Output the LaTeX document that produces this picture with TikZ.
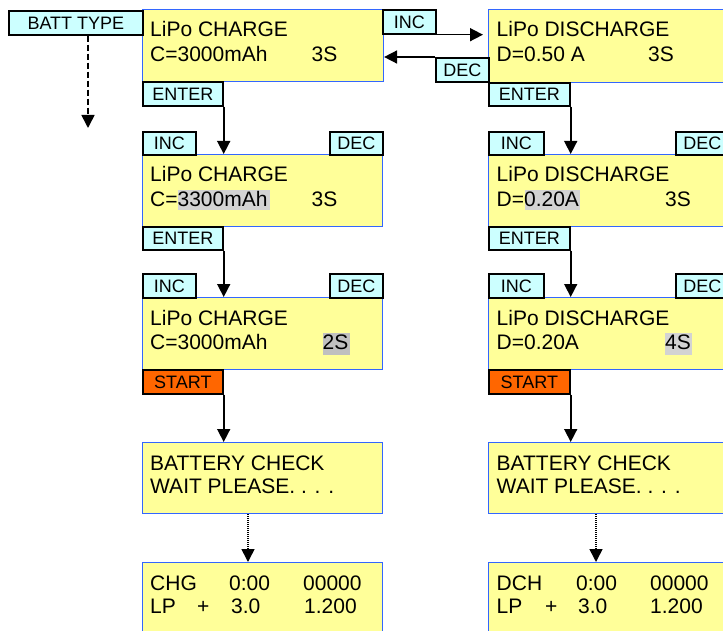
\documentclass[tikz,border=0pt]{standalone}
\usepackage{fontspec}
\setmainfont{Liberation Sans}
\usetikzlibrary{arrows.meta}
\definecolor{lcdyellow}{RGB}{255,255,153}
\definecolor{lcdblue}{RGB}{51,102,255}
\definecolor{keycyan}{RGB}{204,255,255}
\definecolor{keyorange}{RGB}{255,102,0}
\definecolor{hlgray}{RGB}{211,211,211}
\definecolor{hlgrayd}{RGB}{192,192,192}
\tikzset{
  lcd/.style={draw=lcdblue, fill=lcdyellow, line width=1.1pt, rectangle, inner sep=0pt, anchor=north west},
  key/.style={draw=black, fill=keycyan, line width=1.7pt, rectangle, inner sep=0pt, anchor=north west,
    font=\fontsize{18}{20}\selectfont, text height=12.9pt, text depth=0pt},
  startkey/.style={key, fill=keyorange},
  txt/.style={inner sep=0pt, anchor=base west, font=\fontsize{21}{24}\selectfont},
  arr/.style={line width=1.6pt, -{Triangle[length=13pt,width=13pt]}},
  hl/.style={fill=hlgray, draw=none},
  hld/.style={fill=hlgrayd, draw=none},
}
\begin{document}
\begin{tikzpicture}[x=1pt,y=-1pt]
\useasboundingbox (0,0) rectangle (723,631);
% ---------- LCD boxes ----------
\node[lcd, minimum width=241pt, minimum height=72pt] (c1) at (142,9) {};
\node[lcd, minimum width=250pt, minimum height=73pt] (d1) at (488,9) {};
\node[lcd, minimum width=240pt, minimum height=72pt] (c2) at (142,154) {};
\node[lcd, minimum width=250pt, minimum height=72pt] (d2) at (488,154) {};
\node[lcd, minimum width=240pt, minimum height=72pt] (c3) at (142,297) {};
\node[lcd, minimum width=250pt, minimum height=72pt] (d3) at (488,297) {};
\node[lcd, minimum width=240pt, minimum height=71pt] (c4) at (142,442) {};
\node[lcd, minimum width=250pt, minimum height=71pt] (d4) at (488,442) {};
\node[lcd, minimum width=240pt, minimum height=80pt] (c5) at (142,562) {};
\node[lcd, minimum width=250pt, minimum height=80pt] (d5) at (488,562) {};
% ---------- highlights ----------
\fill[hl]  (178,190) rectangle (270,210);
\fill[hld] (323,333) rectangle (350,355);
\fill[hl]  (525,190) rectangle (580,210);
\fill[hl]  (665,333) rectangle (692,355);
% ---------- keys ----------
\node[key, minimum width=134pt, minimum height=24pt] (batt) at (8,10) {BATT TYPE};
\node[key, minimum width=80pt, minimum height=24pt] (enter1) at (142,81) {ENTER};
\node[key, minimum width=53pt, minimum height=24pt] (inc1) at (382,9) {INC};
\node[key, minimum width=53pt, minimum height=24pt] (dec1) at (435,57) {DEC};
\node[key, minimum width=81pt, minimum height=23pt] (enter1r) at (488,82) {ENTER};
\node[key, minimum width=53pt, minimum height=23pt] (inc2) at (142,131) {INC};
\node[key, minimum width=53pt, minimum height=23pt] (dec2) at (329,131) {DEC};
\node[key, minimum width=80pt, minimum height=23pt] (enter2) at (142,226) {ENTER};
\node[key, minimum width=55pt, minimum height=23pt] (inc2r) at (488,131) {INC};
\node[key, minimum width=53pt, minimum height=23pt] (dec2r) at (675,131) {DEC};
\node[key, minimum width=81pt, minimum height=23pt] (enter2r) at (488,226) {ENTER};
\node[key, minimum width=53pt, minimum height=24pt] (inc3) at (142,273) {INC};
\node[key, minimum width=53pt, minimum height=24pt] (dec3) at (329,273) {DEC};
\node[startkey, minimum width=80pt, minimum height=24pt] (start3) at (142,369) {START};
\node[key, minimum width=55pt, minimum height=24pt] (inc3r) at (488,273) {INC};
\node[key, minimum width=53pt, minimum height=24pt] (dec3r) at (675,273) {DEC};
\node[startkey, minimum width=81pt, minimum height=24pt] (start3r) at (488,369) {START};
% ---------- texts ----------
\node[txt] (t1a) at (150,37) {LiPo CHARGE};
\node[txt] (t1b) at (150,62) {C=3000mAh};
\node[txt] (t1c) at (311.5,62) {3S};
\node[txt] (u1a) at (496.5,37) {LiPo DISCHARGE};
\node[txt] (u1b) at (496.5,62) {D=0.50 A};
\node[txt] (u1c) at (648,62) {3S};
\node[txt] (t2a) at (150,182) {LiPo CHARGE};
\node[txt] (t2b) at (150,207) {C=3300mAh};
\node[txt] (t2c) at (311.5,207) {3S};
\node[txt] (u2a) at (496.5,182) {LiPo DISCHARGE};
\node[txt] (u2b) at (496.5,207) {D=0.20A};
\node[txt] (u2c) at (665,207) {3S};
\node[txt] (t3a) at (150,325) {LiPo CHARGE};
\node[txt] (t3b) at (150,349) {C=3000mAh};
\node[txt] (t3c) at (322.5,349) {2S};
\node[txt] (u3a) at (496.5,325) {LiPo DISCHARGE};
\node[txt] (u3b) at (496.5,349) {D=0.20A};
\node[txt] (u3c) at (665,349) {4S};
\node[txt] (t4a) at (150,470) {BATTERY CHECK};
\node[txt] (t4b) at (150,493) {WAIT PLEASE. . . .};
\node[txt] (u4a) at (496.5,470) {BATTERY CHECK};
\node[txt] (u4b) at (496.5,493) {WAIT PLEASE. . . .};
\node[txt] (t5a) at (150,590) {CHG};
\node[txt] (t5b) at (229,590) {0:00};
\node[txt] (t5c) at (303,590) {00000};
\node[txt] (t5d) at (150,613) {LP};
\node[txt] (t5e) at (197,613) {+};
\node[txt] (t5f) at (231,613) {3.0};
\node[txt] (t5g) at (304,613) {1.200};
\node[txt] (u5a) at (496.5,590) {DCH};
\node[txt] (u5b) at (576,590) {0:00};
\node[txt] (u5c) at (650,590) {00000};
\node[txt] (u5d) at (496.5,613) {LP};
\node[txt] (u5e) at (545,613) {+};
\node[txt] (u5f) at (578,613) {3.0};
\node[txt] (u5g) at (650,613) {1.200};
% ---------- connectors ----------
\coordinate (bt) at (88,128);
\draw[arr, dash pattern=on 6pt off 3pt] (batt.south -| bt) -- (bt);
\draw[arr, shorten >=5pt] (inc1.south east) -- (inc1.south east -| d1.west);
\draw[arr] (dec1.north west) -- (dec1.north west -| c1.east);
\draw[arr] (enter1.south east) -- (enter1.south east |- c2.north);
\draw[arr] (enter2.south east) -- (enter2.south east |- c3.north);
\draw[arr] (start3.south east) -- (start3.south east |- c4.north);
\draw[arr] (enter1r.south east) -- (enter1r.south east |- d2.north);
\draw[arr] (enter2r.south east) -- (enter2r.south east |- d3.north);
\draw[arr] (start3r.south east) -- (start3r.south east |- d4.north);
\coordinate (dl) at (248,0);
\coordinate (dr) at (596,0);
\draw[arr, dash pattern=on 1pt off 1pt] (c4.south -| dl) -- (c5.north -| dl);
\draw[arr, dash pattern=on 1pt off 1pt] (d4.south -| dr) -- (d5.north -| dr);
\end{tikzpicture}
\end{document}
